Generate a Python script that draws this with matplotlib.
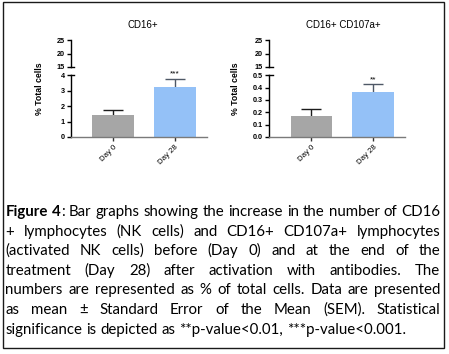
import matplotlib
matplotlib.use("Agg")
import matplotlib.pyplot as plt
from matplotlib.patches import Rectangle

W, H = 449, 354

groups = ["Day 0", "Day 28"]

cd16_mean = [1.43, 3.25]
cd16_sem = [0.32, 0.54]
cd16_stars = ["", "***"]
cd16_ticks = [0, 1, 2, 3, 4]
cd16_ticklabels = ["0", "1", "2", "3", "4"]

cd107_mean = [0.168, 0.365]
cd107_sem = [0.056, 0.062]
cd107_stars = ["", "**"]
cd107_ticks = [0.0, 0.1, 0.2, 0.3, 0.4, 0.5]
cd107_ticklabels = ["0.0", "0.1", "0.2", "0.3", "0.4", "0.5"]

upper_ticks = [15, 20, 25]

bar_colors = ["#a6a6a6", "#94c1f7"]
err_colors = ["#1c1c1c", "#4f5866"]

caption_lines = [
    "Figure 4: Bar graphs showing the increase in the number of CD16",
    "+ lymphocytes (NK cells) and CD16+ CD107a+ lymphocytes",
    "(activated NK cells) before (Day 0) and at the end of the",
    "treatment (Day 28) after activation with antibodies. The",
    "numbers are represented as % of total cells. Data are presented",
    "as mean \u00b1 Standard Error of the Mean (SEM). Statistical",
    "significance is depicted as **p-value<0.01, ***p-value<0.001.",
]

CHART_FONT = "Liberation Sans"
CAP_FONT = "Lato"
CAP_FS = 10.8

fig = plt.figure(figsize=(W / 100, H / 100), dpi=100)


def px(x, y):
    # pixel coords (from top-left) -> figure fraction
    return x / W, 1 - y / H


def draw_panel(x0, title, means, sems, stars, ticks, ticklabels, title_x, label_x):
    lo = fig.add_axes([x0 / W, 1 - 137 / H, 136 / W, 61.7 / H])
    hi = fig.add_axes([x0 / W, 1 - 66.7 / H, 136 / W, 26.4 / H])
    xs = list(range(len(groups)))
    for ax in (lo, hi):
        for i in xs:
            ax.errorbar(xs[i], means[i], yerr=sems[i], color=err_colors[i],
                        lw=1.0, capsize=7.5, capthick=1.0, zorder=1)
        ax.bar(xs, means, width=0.67, color=bar_colors, zorder=2)
        ax.set_xlim(-0.68, 1.52)
        ax.patch.set_visible(False)
        ax.spines[["top", "right"]].set_visible(False)
        ax.spines["left"].set_linewidth(1.0)
        ax.tick_params(axis="y", length=3, width=1.0, pad=1.5, labelsize=5.2)
    lo.set_ylim(0, ticks[-1])
    lo.set_yticks(ticks, ticklabels, fontweight="bold", family=CHART_FONT)
    lo.spines["bottom"].set_color("#7a7a7a")
    lo.spines["bottom"].set_linewidth(1.0)
    lo.set_xticks(xs, groups, rotation=45, ha="right", rotation_mode="anchor",
                  fontsize=5.6, family=CHART_FONT)
    lo.tick_params(axis="x", length=3, width=1.0, pad=2, color="#333333")
    hi.set_ylim(upper_ticks[0], upper_ticks[-1])
    hi.set_yticks(upper_ticks, [str(t) for t in upper_ticks], fontweight="bold",
                  family=CHART_FONT)
    hi.spines["bottom"].set_visible(False)
    hi.set_xticks([])
    # break marks
    lo.plot([0, 0.025], [1, 1], transform=lo.transAxes, color="black", lw=1.0, clip_on=False)
    hi.plot([0, 0.025], [0, 0], transform=hi.transAxes, color="black", lw=1.0, clip_on=False)
    for i in xs:
        if stars[i]:
            lo.annotate(stars[i], (xs[i], means[i] + sems[i]), xytext=(0, 0.5),
                        textcoords="offset points", ha="center", va="bottom",
                        fontsize=6, family=CHART_FONT, annotation_clip=False)
    fig.text(*px(title_x, 25), title, ha="center", va="center", fontsize=7,
             family=CHART_FONT)
    fig.text(*px(label_x, 88.5), "% Total cells", ha="center", va="center",
             rotation=90, fontsize=6.3, fontweight="bold", family=CHART_FONT)


draw_panel(71, "CD16+", cd16_mean, cd16_sem, cd16_stars, cd16_ticks,
           cd16_ticklabels, 143, 39.5)
draw_panel(269.3, "CD16+ CD107a+", cd107_mean, cd107_sem, cd107_stars,
           cd107_ticks, cd107_ticklabels, 343, 235)

# outer frame
fig.patches.append(Rectangle(px(2.5, 348), 441.5 / W, 346.5 / H, transform=fig.transFigure,
                             fill=False, edgecolor="#1a1a1a", lw=1.0))

# justified caption
renderer = fig.canvas.get_renderer()


def measure(s, weight):
    t = fig.text(0, 0, s, fontsize=CAP_FS, family=CAP_FONT, weight=weight)
    w = t.get_window_extent(renderer).width
    t.remove()
    return w


space_w = measure("a a", "normal") - measure("aa", "normal")
left, right = 5.5, 440.5
base0, step = 216, 19.6

for n, line in enumerate(caption_lines):
    tokens = []
    for word in line.split():
        if n == 0 and word == "Figure":
            tokens.append([("Figure", "bold")])
        elif n == 0 and word == "4:":
            tokens.append([("4", "bold"), (":", "normal")])
        else:
            tokens.append([(word, "normal")])
    widths = [sum(measure(s, w) for s, w in tok) for tok in tokens]
    if n < len(caption_lines) - 1:
        gap = (right - left - sum(widths)) / (len(tokens) - 1)
    else:
        gap = space_w
    x = left
    y = base0 + n * step
    for tok, tw in zip(tokens, widths):
        xx = x
        for s, w in tok:
            fig.text(*px(xx, y), s, fontsize=CAP_FS, family=CAP_FONT, weight=w,
                     va="baseline", ha="left", color="black")
            xx += measure(s, w)
        x += tw + gap

fig.savefig("out.png", dpi=100)
